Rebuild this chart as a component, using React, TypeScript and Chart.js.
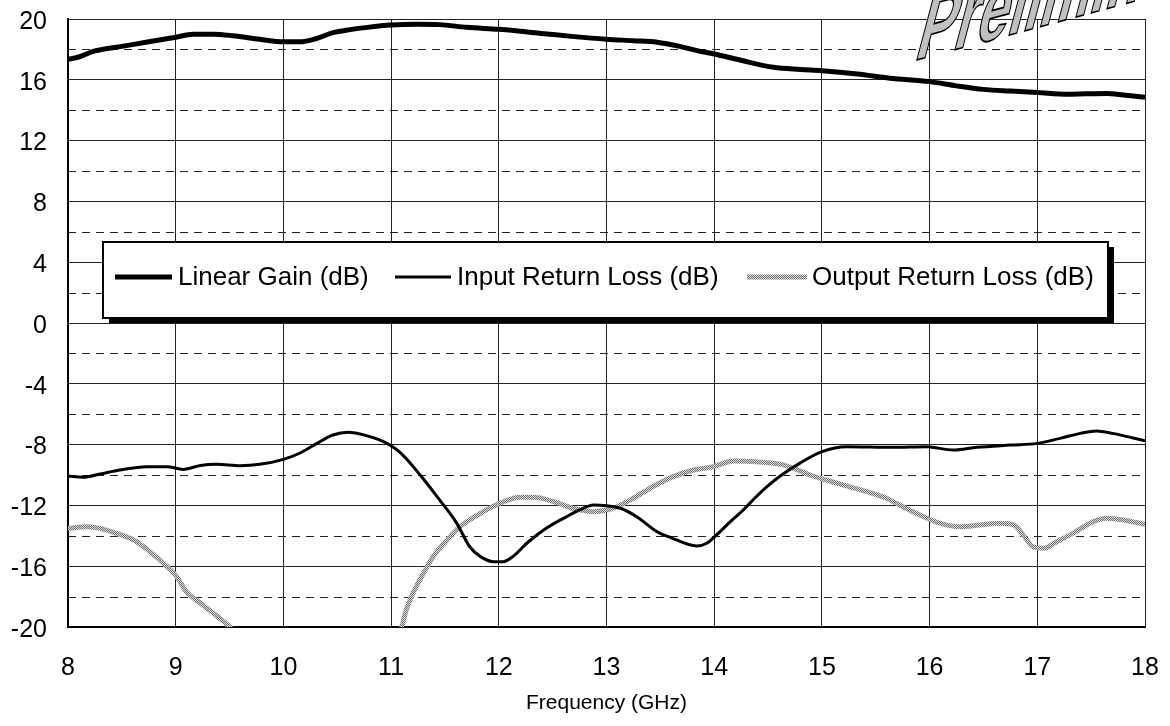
import React, { useEffect, useRef } from "react";
import { Chart, registerables } from "chart.js";

Chart.register(...registerables);

// ---- Data ----
const seriesLabels = ["Linear Gain (dB)", "Input Return Loss (dB)", "Output Return Loss (dB)"];
const xTitle = "Frequency (GHz)";
const watermarkText = "Preliminary";
const yMinorGrid = [-18, -14, -10, -6, -2, 2, 6, 10, 14, 18];

const gainFreq = [8.0, 8.1, 8.25, 8.5, 8.75, 9.0, 9.16, 9.35, 9.53, 9.78, 10.0, 10.15, 10.3, 10.46, 10.62, 10.78, 11.0, 11.24, 11.45, 11.7, 12.0, 12.2, 12.47, 12.7, 13.0, 13.25, 13.47, 13.68, 13.85, 14.0, 14.24, 14.55, 14.8, 15.0, 15.33, 15.63, 16.0, 16.25, 16.5, 16.75, 17.0, 17.28, 17.45, 17.65, 17.8, 18.0];
const gainDb = [17.35, 17.5, 17.9, 18.2, 18.5, 18.8, 19.0, 19.0, 18.9, 18.67, 18.5, 18.5, 18.7, 19.1, 19.3, 19.45, 19.6, 19.65, 19.63, 19.45, 19.32, 19.2, 19.0, 18.84, 18.67, 18.57, 18.47, 18.2, 17.9, 17.7, 17.3, 16.82, 16.68, 16.6, 16.38, 16.1, 15.88, 15.6, 15.37, 15.26, 15.17, 15.05, 15.08, 15.1, 15.0, 14.85];

const inFreq = [8.0, 8.14, 8.3, 8.48, 8.73, 8.92, 9.07, 9.23, 9.38, 9.6, 9.78, 10.0, 10.15, 10.31, 10.46, 10.6, 10.77, 10.93, 11.08, 11.27, 11.45, 11.61, 11.73, 11.83, 11.95, 12.04, 12.13, 12.26, 12.44, 12.63, 12.75, 12.88, 13.0, 13.13, 13.28, 13.47, 13.59, 13.84, 13.93, 14.02, 14.15, 14.27, 14.38, 14.49, 14.61, 14.8, 15.0, 15.23, 15.66, 15.97, 16.22, 16.44, 16.75, 17.0, 17.21, 17.4, 17.55, 17.7, 18.0];
const inDb = [-10.07, -10.15, -9.93, -9.67, -9.45, -9.45, -9.63, -9.37, -9.3, -9.39, -9.3, -8.97, -8.57, -7.92, -7.37, -7.19, -7.41, -7.81, -8.5, -10.0, -11.64, -13.18, -14.72, -15.37, -15.7, -15.7, -15.37, -14.49, -13.51, -12.74, -12.3, -11.97, -12.02, -12.19, -12.74, -13.73, -14.1, -14.67, -14.49, -13.95, -13.07, -12.3, -11.5, -10.77, -10.08, -9.2, -8.46, -8.14, -8.18, -8.14, -8.36, -8.18, -8.03, -7.92, -7.59, -7.26, -7.1, -7.26, -7.75];

const outFreq = [8.0, 8.17, 8.3, 8.45, 8.61, 8.76, 8.92, 9.01, 9.1, 9.23, 9.35, 9.5, 9.56, 10.3, 11.08, 11.1, 11.14, 11.21, 11.3, 11.39, 11.52, 11.64, 11.83, 12.01, 12.2, 12.32, 12.51, 12.69, 12.88, 13.06, 13.25, 13.43, 13.62, 13.81, 13.99, 14.18, 14.3, 14.46, 14.62, 14.75, 14.89, 15.04, 15.23, 15.42, 15.6, 15.72, 15.91, 16.1, 16.28, 16.47, 16.65, 16.78, 16.87, 16.96, 17.06, 17.18, 17.33, 17.52, 17.64, 17.8, 18.0];
const outDb = [-13.51, -13.4, -13.51, -13.84, -14.28, -15.04, -16.03, -16.69, -17.68, -18.44, -19.1, -19.98, -20.4, null, -20.4, -19.98, -18.88, -17.68, -16.47, -15.37, -14.28, -13.4, -12.52, -11.86, -11.47, -11.47, -11.75, -12.19, -12.41, -12.19, -11.53, -10.77, -10.11, -9.67, -9.45, -9.08, -9.1, -9.17, -9.3, -9.6, -10.0, -10.33, -10.72, -11.1, -11.53, -11.97, -12.63, -13.18, -13.4, -13.29, -13.18, -13.29, -13.95, -14.72, -14.82, -14.39, -13.84, -13.07, -12.85, -12.96, -13.25];

const FONT = "'Liberation Sans', Arial, sans-serif";

function makePattern(ctx: CanvasRenderingContext2D) {
  const c = document.createElement("canvas");
  c.width = 2;
  c.height = 2;
  const p = c.getContext("2d")!;
  p.fillStyle = "#dcdcdc";
  p.fillRect(0, 0, 2, 2);
  p.fillStyle = "#707070";
  p.fillRect(0, 0, 1, 1);
  p.fillRect(1, 1, 1, 1);
  return ctx.createPattern(c, "repeat")!;
}

export default function App() {
  const ref = useRef<HTMLCanvasElement>(null);

  useEffect(() => {
    document.body.style.margin = "0";
    const canvas = ref.current!;
    const ctx = canvas.getContext("2d")!;
    const pattern = makePattern(ctx);
    const toPts = (xs: number[], ys: (number | null)[]) => xs.map((x, i) => ({ x, y: ys[i] }));

    const minorGridPlugin = {
      id: "minorGrid",
      beforeDatasetsDraw(chart: any) {
        const { ctx: c, chartArea: a, scales } = chart;
        c.save();
        c.strokeStyle = "#222";
        c.lineWidth = 1;
        c.setLineDash([8, 6]);
        for (const v of yMinorGrid) {
          const y = Math.round(scales.y.getPixelForValue(v)) + 0.5;
          c.beginPath();
          c.moveTo(a.left, y);
          c.lineTo(a.right, y);
          c.stroke();
        }
        c.restore();
      },
    };

    const legendPlugin = {
      id: "boxLegend",
      afterDraw(chart: any) {
        const { ctx: c, chartArea: a } = chart;
        const L = a.left + 35;
        const T = a.top + 223;
        const W = 1005;
        const H = 76;
        const cy = T + 35;
        c.save();
        c.fillStyle = "#000";
        c.fillRect(L + 6, T + 5, W, H);
        c.fillStyle = "#fff";
        c.fillRect(L, T, W, H);
        c.strokeStyle = "#000";
        c.lineWidth = 2;
        c.strokeRect(L, T, W, H);
        const items = [
          { x0: 12, x1: 69, tx: 75, w: 5, col: "#000" as any },
          { x0: 292, x1: 348, tx: 354, w: 3, col: "#000" as any },
          { x0: 644, x1: 704, tx: 709, w: 5, col: pattern as any },
        ];
        c.font = `26px ${FONT}`;
        c.textBaseline = "middle";
        c.textAlign = "left";
        items.forEach((it, i) => {
          c.strokeStyle = it.col;
          c.lineWidth = it.w;
          c.lineCap = "butt";
          c.beginPath();
          c.moveTo(L + it.x0, cy);
          c.lineTo(L + it.x1, cy);
          c.stroke();
          c.fillStyle = "#000";
          c.fillText(seriesLabels[i], L + it.tx, cy + 1);
        });
        c.restore();
      },
    };

    const watermarkPlugin = {
      id: "watermark",
      afterDraw(chart: any) {
        const { ctx: c, chartArea: a } = chart;
        c.save();
        c.transform(1, -0.27, -0.45, 1.7, a.right - 232, a.top + 42);
        c.font = `bold 57px ${FONT}`;
        c.textBaseline = "alphabetic";
        c.fillStyle = "#c0c0c0";
        c.fillText(watermarkText, 0, 0);
        c.strokeStyle = "#000";
        c.lineWidth = 1.1;
        c.strokeText(watermarkText, 0, 0);
        c.restore();
      },
    };

    const chart = new Chart(canvas, {
      type: "line",
      data: {
        datasets: [
          {
            label: seriesLabels[0],
            data: toPts(gainFreq, gainDb),
            borderColor: "#000",
            borderWidth: 5,
            pointRadius: 0,
            cubicInterpolationMode: "monotone",
          },
          {
            label: seriesLabels[1],
            data: toPts(inFreq, inDb),
            borderColor: "#000",
            borderWidth: 3,
            pointRadius: 0,
            cubicInterpolationMode: "monotone",
          },
          {
            label: seriesLabels[2],
            data: toPts(outFreq, outDb),
            borderColor: pattern,
            borderWidth: 5,
            pointRadius: 0,
            cubicInterpolationMode: "monotone",
            spanGaps: false,
            clip: 0,
          },
        ] as any,
      },
      options: {
        animation: false,
        responsive: false,
        devicePixelRatio: 1,
        layout: { padding: { top: 19, right: 25, left: 0, bottom: 0 } },
        plugins: { legend: { display: false }, tooltip: { enabled: false } },
        scales: {
          x: {
            type: "linear",
            min: 8,
            max: 18,
            ticks: { stepSize: 1, color: "#000", font: { family: FONT, size: 25 }, padding: 26, maxRotation: 0 },
            grid: { color: "#222", lineWidth: 1, drawTicks: false },
            border: { color: "#000", width: 2 },
            title: { display: true, text: xTitle, color: "#000", font: { family: FONT, size: 21 }, padding: { top: 0, bottom: 10 } },
            afterFit: (s: any) => {
              s.height = 99;
              s.paddingLeft = 0;
              s.paddingRight = 0;
            },
          },
          y: {
            type: "linear",
            min: -20,
            max: 20,
            ticks: { stepSize: 4, color: "#000", font: { family: FONT, size: 25 }, padding: 21, labelOffset: 3 },
            grid: { color: "#222", lineWidth: 1, drawTicks: false },
            border: { color: "#000", width: 2 },
            afterFit: (s: any) => {
              s.width = 68;
              s.paddingTop = 0;
              s.paddingBottom = 0;
            },
          },
        },
      } as any,
      plugins: [minorGridPlugin, legendPlugin, watermarkPlugin],
    });
    return () => chart.destroy();
  }, []);

  return <canvas ref={ref} width={1170} height={726} style={{ display: "block", width: 1170, height: 726 }} />;
}
